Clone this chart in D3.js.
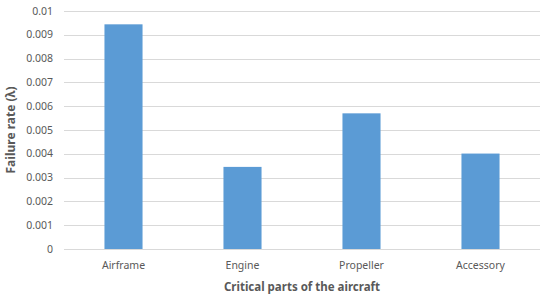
<!DOCTYPE html>
<meta charset="utf-8">
<title>Failure rate of critical aircraft parts</title>
<style>
    body { margin: 0; background: #fff; }
    text { font-family: "Noto Sans", "Open Sans", sans-serif; fill: #595959; }
</style>
<script src="https://d3js.org/d3.v7.min.js"></script>
<svg width="550" height="296"></svg>
<script>
    // Data
    const parts = ["Airframe", "Engine", "Propeller", "Accessory"];
    const failureRate = [0.00944, 0.00345, 0.0057, 0.00401];
    const yTicks = [0, 0.001, 0.002, 0.003, 0.004, 0.005, 0.006, 0.007, 0.008, 0.009, 0.01];

    const svg = d3.select("svg");
    const margin = {top: 11, right: 10, bottom: 47, left: 64};
    const width = 550 - margin.left - margin.right,
        height = 296 - margin.top - margin.bottom;

    const g = svg.append("g")
        .attr("transform", `translate(${margin.left},${margin.top})`);

    const x = d3.scaleBand()
        .domain(parts)
        .range([0, width])
        .paddingInner(0.68)
        .paddingOuter(0.34);

    const y = d3.scaleLinear()
        .domain([0, 0.01])
        .range([height, 0]);

    // gridlines
    g.append("g")
        .selectAll("line")
        .data(yTicks)
        .join("line")
        .attr("x1", 0)
        .attr("x2", width)
        .attr("y1", d => Math.round(y(d)) + 0.5)
        .attr("y2", d => Math.round(y(d)) + 0.5)
        .attr("stroke", "#d9d9d9")
        .attr("stroke-width", 1);

    // y labels
    g.append("g")
        .selectAll("text")
        .data(yTicks)
        .join("text")
        .attr("x", -11)
        .attr("y", d => y(d))
        .attr("dy", "0.35em")
        .attr("text-anchor", "end")
        .style("font-size", "10.5px")
        .text(d => d === 0 ? "0" : d3.format("")(+d.toFixed(3)));

    // bars
    g.append("g")
        .selectAll("rect")
        .data(parts)
        .join("rect")
        .attr("x", d => x(d))
        .attr("y", (d, i) => y(failureRate[i]))
        .attr("width", x.bandwidth())
        .attr("height", (d, i) => height - y(failureRate[i]))
        .attr("fill", "#5b9bd5");

    // x labels
    g.append("g")
        .selectAll("text")
        .data(parts)
        .join("text")
        .attr("x", d => x(d) + x.bandwidth() / 2)
        .attr("y", height + 20)
        .attr("text-anchor", "middle")
        .style("font-size", "10.5px")
        .text(d => d);

    // axis titles
    svg.append("text")
        .attr("x", margin.left + width / 2)
        .attr("y", 291)
        .attr("text-anchor", "middle")
        .style("font-size", "11.5px")
        .style("font-weight", "bold")
        .text("Critical parts of the aircraft");

    svg.append("text")
        .attr("transform", `translate(15,${margin.top + height / 2}) rotate(-90)`)
        .attr("text-anchor", "middle")
        .style("font-size", "12px")
        .style("font-weight", "bold")
        .text("Failure rate (λ)");
</script>
